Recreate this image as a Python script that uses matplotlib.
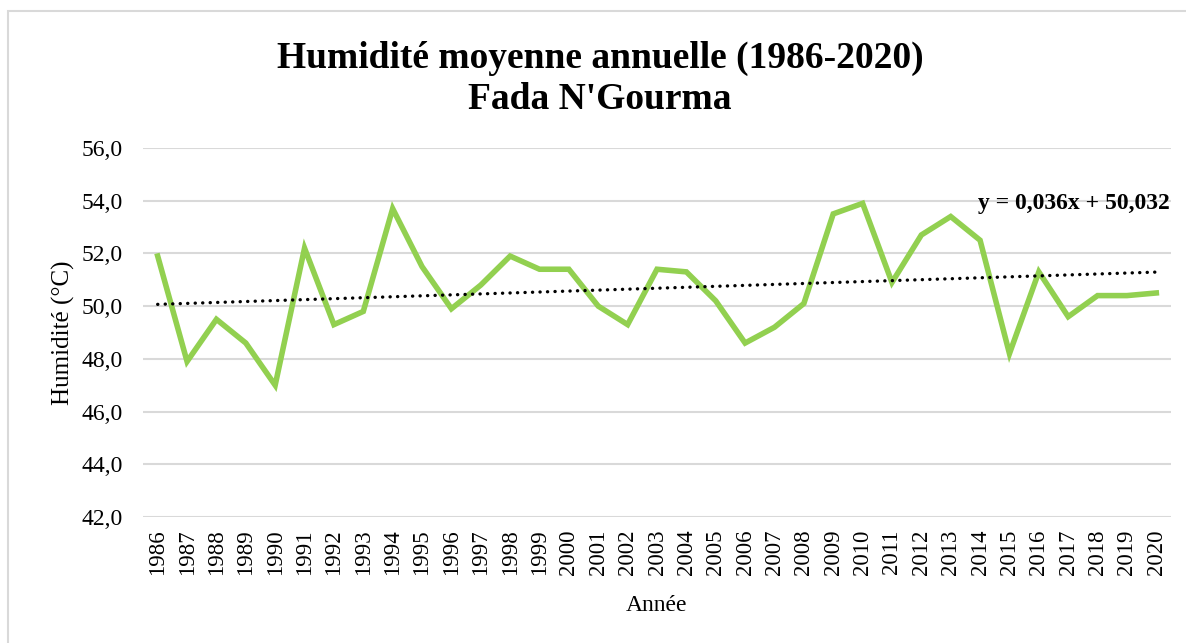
import numpy as np
import matplotlib
matplotlib.use("Agg")
import matplotlib.pyplot as plt
from matplotlib.patches import Rectangle

plt.rcParams['font.family'] = ['Liberation Serif', 'DejaVu Serif']

# Data
years = list(range(1986, 2021))
humidity = [51.9, 47.9, 49.5, 48.6, 47.0, 52.2, 49.3, 49.8, 53.7, 51.5,
            49.9, 50.8, 51.9, 51.4, 51.4, 50.0, 49.3, 51.4, 51.3, 50.2,
            48.6, 49.2, 50.1, 53.5, 53.9, 50.9, 52.7, 53.4, 52.5, 48.2,
            51.3, 49.6, 50.4, 50.4, 50.5]
y_ticks = [42, 44, 46, 48, 50, 52, 54, 56]
trend_slope = 0.036
trend_intercept = 50.032

x = np.arange(1, len(years) + 1)
trend = trend_slope * x + trend_intercept

fig = plt.figure(figsize=(11.86, 6.43), dpi=100)
# outer chart border
fig.patches.append(Rectangle((8 / 1186, -0.05), 1.1, 1 - 11 / 643 + 0.05,
                             transform=fig.transFigure, fill=False,
                             edgecolor='#D9D9D9', linewidth=1.5))

ax = fig.add_axes([143 / 1186, 1 - 517 / 643, (1171 - 143) / 1186, (517 - 148) / 643])

ax.plot(x, humidity, color='#92D050', linewidth=4, solid_joinstyle='miter', zorder=3)
ax.plot(x, trend, color='black', linewidth=2.4, linestyle=(0, (0.05, 2.2)),
        dash_capstyle='round', zorder=4)

ax.set_xlim(0.5, len(years) + 0.5)
ax.set_ylim(42, 56)
ax.set_yticks(y_ticks)
ax.set_yticklabels([f"{v:.1f}".replace('.', ',') for v in y_ticks], fontsize=17)
ax.set_xticks(x)
ax.set_xticklabels([str(yr) for yr in years], rotation=90, fontsize=16.5)
ax.tick_params(axis='y', length=0, pad=14.5)
ax.tick_params(axis='x', length=0, pad=9)

ax.grid(axis='y', color='#D9D9D9', linewidth=1.5)
ax.set_axisbelow(True)
for s in ax.spines.values():
    s.set_visible(False)

ax.set_xlabel("Année", fontsize=17, labelpad=14)
ax.set_ylabel("Humidité (°C)", fontsize=18, labelpad=5)

fig.text(0.506, 1 - 79 / 643, "Humidité moyenne annuelle (1986-2020)\nFada N'Gourma",
         ha='center', va='center', fontsize=27, fontweight='bold', linespacing=1.2)

ax.text(0.999, 53.9, f"y = {trend_slope:.3f}x + {trend_intercept:.3f}".replace('.', ','),
        transform=ax.get_yaxis_transform(), ha='right', va='center',
        fontsize=17, fontweight='bold')

fig.savefig("out.png", dpi=100)
